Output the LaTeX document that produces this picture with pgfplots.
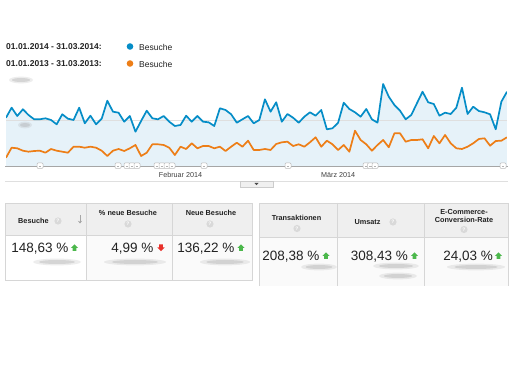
\documentclass[border=0pt]{standalone}
\usepackage{pgfplots}
\pgfplotsset{compat=1.18}
\usepackage{pgfplotstable}
\usepackage{fontspec}
\setmainfont{Liberation Sans}
\usetikzlibrary{arrows.meta}
\definecolor{gablue}{HTML}{058DC7}
\definecolor{gaorange}{HTML}{ED7E17}
\definecolor{gafill}{HTML}{E6F2F9}
\definecolor{hdr}{HTML}{EFEFEF}
\definecolor{cell}{HTML}{FAFAFA}
\definecolor{brd}{HTML}{D6D6D6}
\definecolor{txt}{HTML}{222222}
\definecolor{upg}{HTML}{4CB84C}
\definecolor{dnr}{HTML}{E8302A}

\pgfplotstableread{
x b o
0 49.3 9.3
1 59.3 19.3
2 51 18.7
3 57.7 16.3
4 52 15.3
5 47.7 16
6 47.7 16.3
7 48.7 14.3
8 47 18
9 42.7 16.3
10 52.7 15.3
11 48.3 14.3
12 47 20.3
13 59.3 20.3
14 43.7 19.3
15 51.3 20.3
16 42.7 19.3
17 48.3 16.3
18 66.3 11
19 55.3 16.3
20 54.3 18
21 45.3 16
22 51 18.7
23 35.3 22
24 46 11
25 56.3 14.3
26 48.7 22.7
27 47.7 22.7
28 51 22
29 45.3 19.3
30 41 12
31 42 20.3
32 51.3 18
33 45.3 23.7
34 51 18.7
35 45.3 21
36 44.7 21
37 41 18.7
38 58.7 20.3
39 57 16
40 52.7 20.3
41 44.3 24.3
42 47.7 20.3
43 51 26.3
44 43.7 17
45 47 17
46 67.7 18
47 55.3 17
48 64.7 23
49 45.3 24.7
50 53 25.3
51 49.3 21
52 44.3 22.7
53 50.3 20.3
54 54.7 24.7
55 51.3 29.7
56 57 20.3
57 37.7 26.3
58 38.7 22.7
59 44.3 17
60 64.3 22
61 58 15.3
62 54.7 36.3
63 50.3 27
64 58 22.7
65 47.7 16.3
66 44.3 22
67 83 27
68 70.3 19.7
69 62 33.7
70 56.3 33.7
71 47.7 25.3
72 52 27
73 63.7 27
74 75.3 27.7
75 64.7 18.7
76 63 31
77 51.3 23.7
78 54.3 32
79 53 23.7
80 59.3 18.7
81 79.3 18
82 53 20.3
83 60.3 23.7
84 56 28
85 54.7 28.7
86 52.7 21.3
87 37.7 26
88 65.3 26.3
89 75.3 29.7
}\gadata

\newcommand\up[2]{\fill[upg] ({#1},{#2-3.6}) -- ({#1+3.6},{#2}) -- ({#1+1.9},{#2}) -- ({#1+1.9},{#2+3}) -- ({#1-1.9},{#2+3}) -- ({#1-1.9},{#2}) -- ({#1-3.6},{#2}) -- cycle;}
\newcommand\dn[2]{\fill[dnr] ({#1},{#2+3.6}) -- ({#1+3.6},{#2}) -- ({#1+1.9},{#2}) -- ({#1+1.9},{#2-3}) -- ({#1-1.9},{#2-3}) -- ({#1-1.9},{#2}) -- ({#1-3.6},{#2}) -- cycle;}
\newcommand\qm[2]{\fill[gray!30] ({#1},{#2}) circle (3.6bp); \node[text=white,inner sep=0pt,font=\fontsize{5bp}{5bp}\selectfont\bfseries] at ({#1},{#2}) {?};}
\newcommand\blob[3]{\fill[gray!70,opacity=0.2] ({#1},{#2}) ellipse ({#3*1bp} and 3.4bp); \fill[gray!80,opacity=0.28] ({#1},{#2}) ellipse ({0.75*#3*1bp} and 2bp);}
\newcommand\mk[1]{\draw[gray!55, fill=white, line width=0.5bp, rounded corners=1bp] ({#1-3},163) rectangle ({#1+3},168.5); \draw[gray!60, line width=0.4bp] ({#1-1.2},165.8) -- ({#1+1.2},165.8);}

\begin{document}
\begin{tikzpicture}
\fill[white] (0,0) rectangle (512bp,384bp);
\begin{axis}[at={(6bp,218bp)}, anchor=south west, scale only axis,
  width=501bp, height=92bp, xmin=0, xmax=89, ymin=1, ymax=93,
  axis line style={draw=none}, major tick length=0pt,
  xtick={31,59}, xticklabels={Februar 2014, März 2014}, ytick=\empty,
  xticklabel style={font=\fontsize{7.2bp}{8bp}\selectfont, text=black!75, yshift=-3bp}]
\addplot[draw=none, fill=gafill] table[x=x,y=b]{\gadata} \closedcycle;
\draw[gray!25, line width=0.6bp] (axis cs:0,47) -- (axis cs:89,47);
\addplot[gaorange, line width=1.7bp, no marks, line join=round] table[x=x,y=o]{\gadata};
\addplot[gablue, line width=1.7bp, no marks, line join=round] table[x=x,y=b]{\gadata};
\end{axis}
\begin{scope}[x=1bp,y=-1bp,shift={(0bp,384bp)}]
% legend
\node[anchor=west,inner sep=0pt,text=txt,font=\fontsize{8.5bp}{10bp}\selectfont\bfseries] at (6,47) {01.01.2014 - 31.03.2014:};
\node[anchor=west,inner sep=0pt,text=txt,font=\fontsize{8.5bp}{10bp}\selectfont\bfseries] at (6,64) {01.01.2013 - 31.03.2013:};
\fill[gablue] (130,46.5) circle (3.3bp);
\fill[gaorange] (130,63.5) circle (3.3bp);
\node[anchor=west,inner sep=0pt,text=txt,font=\fontsize{8.5bp}{10bp}\selectfont] at (139,47) {Besuche};
\node[anchor=west,inner sep=0pt,text=txt,font=\fontsize{8.5bp}{10bp}\selectfont] at (139,64) {Besuche};
% blurred axis labels
\blob{21}{80}{12}
\blob{25}{125}{7}
% baseline and markers
\draw[gray!70, line width=0.8bp] (5,166) -- (508,166);
\foreach \p in {40,118,127,132,137,157,162,167,172,204,288,366,370.5,375,503} {\mk{\p}}
% bottom line and button
\draw[gray!25, line width=0.6bp] (5,181) -- (508,181);
\draw[gray!40, fill=gray!12, line width=0.4bp] (240,181.5) rectangle (273,186.8);
\fill[black!70] (254.5,183) -- (258.5,183) -- (256.5,185.2) -- cycle;
% left table
\fill[hdr] (5,203) rectangle (252,235);
\fill[cell] (86,235) rectangle (252,280);
\draw[brd, line width=0.6bp] (5,203) rectangle (252,280);
\draw[brd, line width=0.6bp] (5,235) -- (252,235) (86,203) -- (86,280) (172,203) -- (172,280);
\node[anchor=west,inner sep=0pt,text=txt,font=\fontsize{7.3bp}{9bp}\selectfont\bfseries] at (18,221) {Besuche};
\qm{58}{221}
\draw[gray!70, line width=0.9bp, -{Stealth[length=2.6bp,width=4bp]}] (80,215.5) -- (80,223.5);
\node[inner sep=0pt,text=txt,font=\fontsize{7.3bp}{9bp}\selectfont\bfseries] at (128,213) {\% neue Besuche};
\qm{128}{224}
\node[inner sep=0pt,text=txt,font=\fontsize{7.3bp}{9bp}\selectfont\bfseries] at (211,213) {Neue Besuche};
\qm{210}{224}
\node[anchor=east,inner sep=0pt,text=txt,font=\fontsize{13.5bp}{15bp}\selectfont] at (68.5,248.5) {148,63 \%};
\up{74.5}{248}
\node[anchor=east,inner sep=0pt,text=txt,font=\fontsize{13.5bp}{15bp}\selectfont] at (153.5,248.5) {4,99 \%};
\dn{161}{247.5}
\node[anchor=east,inner sep=0pt,text=txt,font=\fontsize{13.5bp}{15bp}\selectfont] at (234.5,248.5) {136,22 \%};
\up{241}{248}
\blob{57}{262}{24}
\blob{135}{262}{31}
\blob{225}{262}{25}
% right table
\fill[hdr] (259,203) rectangle (508,237);
\fill[cell] (259,237) rectangle (508,286);
\draw[brd, line width=0.6bp] (259,286) -- (259,203) -- (508,203) -- (508,286);
\draw[brd, line width=0.6bp] (259,237) -- (508,237) (337,203) -- (337,286) (424,203) -- (424,286);
\node[inner sep=0pt,text=txt,font=\fontsize{7.3bp}{9bp}\selectfont\bfseries] at (296.5,218) {Transaktionen};
\qm{297}{228.5}
\node[inner sep=0pt,text=txt,font=\fontsize{7.3bp}{9bp}\selectfont\bfseries] at (367.5,222.5) {Umsatz};
\qm{393}{222}
\node[inner sep=0pt,text=txt,font=\fontsize{7.3bp}{9bp}\selectfont\bfseries] at (464,212) {E-Commerce-};
\node[inner sep=0pt,text=txt,font=\fontsize{7.3bp}{9bp}\selectfont\bfseries] at (464,220) {Conversion-Rate};
\qm{464}{229.5}
\node[anchor=east,inner sep=0pt,text=txt,font=\fontsize{13.5bp}{15bp}\selectfont] at (319.5,256.5) {208,38 \%};
\up{326}{256}
\node[anchor=east,inner sep=0pt,text=txt,font=\fontsize{13.5bp}{15bp}\selectfont] at (408,256.5) {308,43 \%};
\up{414.5}{256}
\node[anchor=east,inner sep=0pt,text=txt,font=\fontsize{13.5bp}{15bp}\selectfont] at (493,256.5) {24,03 \%};
\up{498.5}{256}
\blob{319}{267}{18}
\blob{396}{266}{23}
\blob{398}{276}{19}
\blob{476}{267}{29}
\end{scope}
\end{tikzpicture}
\end{document}
